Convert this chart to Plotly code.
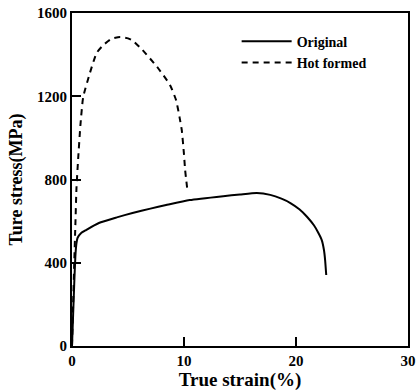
import plotly.graph_objects as go

orig_strain = [0, 0.1, 0.2, 0.3, 0.4, 0.5, 0.8, 1.25, 2.4, 4.0, 5.4, 7.0, 8.4, 10.5, 13.5, 15.0, 16.5, 17.7, 18.7, 19.5, 20.3, 21.0, 21.6, 22.0, 22.3, 22.5, 22.6, 22.7]
orig_stress = [0, 150, 300, 430, 495, 520, 542, 557, 591, 618, 639, 660, 677, 701, 720, 728, 735, 726, 708, 687, 657, 620, 580, 543, 509, 460, 413, 341]

hot_strain = [0, 0.1, 0.2, 0.3, 0.4, 0.55, 0.75, 1.0, 1.6, 2.2, 2.8, 3.5, 4.3, 5.0, 5.4, 6.3, 7.6, 8.75, 9.3, 9.6, 9.8, 10.0, 10.1, 10.3]
hot_stress = [0, 200, 400, 580, 760, 900, 1060, 1196, 1312, 1408, 1446, 1475, 1485, 1478, 1468, 1422, 1341, 1254, 1180, 1100, 1038, 920, 846, 750]

x_ticks = [0, 10, 20, 30]
y_ticks = [0, 400, 800, 1200, 1600]

font_family = "Liberation Serif"

fig = go.Figure()
fig.add_trace(go.Scatter(x=orig_strain, y=orig_stress, mode="lines", name="<b>Original</b>",
                         line=dict(color="black", width=2, shape="spline", smoothing=0.5)))
fig.add_trace(go.Scatter(x=hot_strain, y=hot_stress, mode="lines", name="<b>Hot formed</b>",
                         line=dict(color="black", width=2, dash="6px,5px", shape="spline", smoothing=0.5)))

axis_common = dict(showgrid=False, zeroline=False, showline=True, linecolor="black", linewidth=2,
                   mirror=True, ticks="inside", ticklen=9, tickwidth=2, tickcolor="black",
                   automargin=False,
                   tickfont=dict(family=font_family, size=15, color="black"))

fig.update_xaxes(range=[0, 30], tickvals=x_ticks, ticktext=[f"<b>{v}</b>" for v in x_ticks],
                 title=dict(text="<b>True strain(%)</b>", font=dict(family=font_family, size=19, color="black"), standoff=0),
                 **axis_common)
fig.update_yaxes(range=[0, 1600], tickvals=y_ticks, ticktext=[f"<b>{v}</b>" for v in y_ticks],
                 title=dict(text="<b>Ture stress(MPa)</b>", font=dict(family=font_family, size=18, color="black"), standoff=10),
                 **axis_common)

fig.update_layout(width=417, height=392, margin=dict(l=72, r=9, t=13, b=46),
                  plot_bgcolor="white", paper_bgcolor="white",
                  font=dict(family=font_family, color="black"),
                  legend=dict(x=0.49, y=0.962, xanchor="left", yanchor="top",
                              bgcolor="rgba(0,0,0,0)", font=dict(family=font_family, size=14, color="black"),
                              tracegroupgap=0, itemwidth=50))

fig.write_html("out.html", config={"displayModeBar": False},
               post_script="document.body.style.margin='0px';")
